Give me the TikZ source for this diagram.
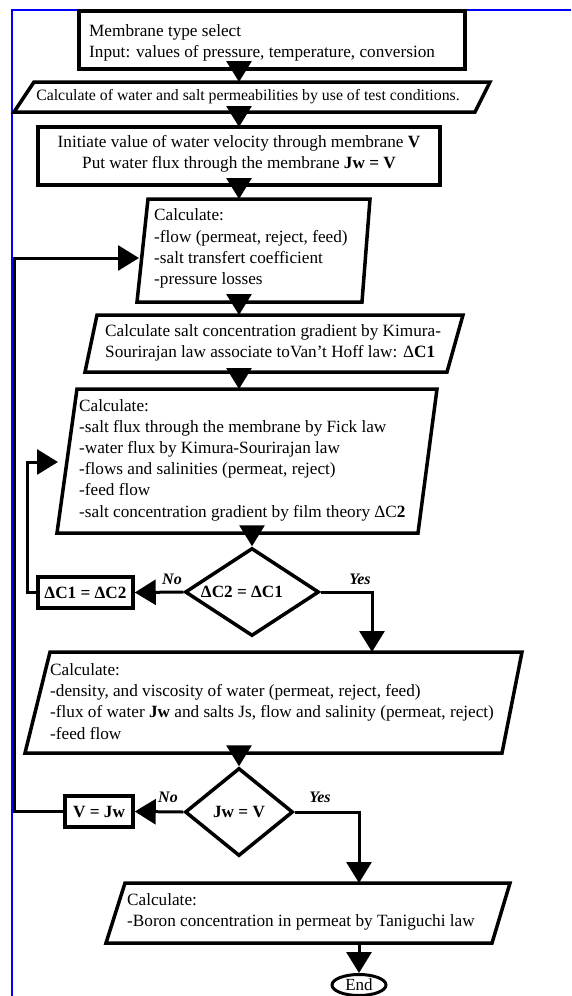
\documentclass[tikz,border=0pt]{standalone}
\usepackage{fontspec}
\setmainfont{Liberation Serif}
\usetikzlibrary{arrows.meta,shapes.geometric}
\tikzset{
  shp/.style={draw=black, line width=3.5pt, line join=miter, fill=white},
  txt/.style={inner sep=0pt, font=\fontsize{17.2}{21.2}\selectfont, align=left},
  conn/.style={draw=black, line width=3pt, -{Triangle[length=21pt,width=25pt]}},
  lab/.style={inner sep=0pt, font=\fontsize{16}{18}\selectfont\bfseries\itshape},
  dtext/.style={font=\fontsize{17.2}{19}\selectfont\bfseries},
  border/.style={draw=blue, line width=2pt},
}
\begin{document}
\begin{tikzpicture}[x=1pt,y=-1pt]
\useasboundingbox[fill=white] (0,0) rectangle (571,996);
\draw[border] (571,10) -- (11.5,10) -- (11.5,996);

% Box 1
\draw[shp] (79,11) rectangle (465,69);
\node[txt, anchor=west] (t1) at (89,43) {Membrane type select\\Input: values of pressure, temperature, conversion};
% Para 2
\draw[shp] (34,82) -- (490,82) -- (475,112) -- (14,112) -- cycle;
\node[txt, font=\fontsize{15.8}{19}\selectfont, anchor=center] (t2) at (248,97) {Calculate of water and salt permeabilities by use of test conditions.};
% Box 3
\draw[shp] (38,127) rectangle (440,185);
\node[txt, align=center] (t3) at (239,153.5) {Initiate value of water velocity through membrane \textbf{V}\\Put water flux through the membrane \textbf{Jw = V}};
% Para 4
\draw[shp] (148,199) -- (370,199) -- (362,302) -- (137,302) -- cycle;
\node[txt, anchor=west] (t4) at (154,248.5) {Calculate:\\-flow (permeat, reject, feed)\\-salt transfert coefficient\\-pressure losses};
% Para 5
\draw[shp] (97,315) -- (463,315) -- (447,372) -- (85,372) -- cycle;
\node[txt, anchor=west] (t5) at (105,343) {Calculate salt concentration gradient by Kimura-\\Sourirajan law associate toVan't Hoff law: Δ\textbf{C1}};
% Para 6
\draw[shp] (77,389) -- (437,389) -- (418,533) -- (57,533) -- cycle;
\node[txt, anchor=west] (t6) at (79,460) {Calculate:\\-salt flux through the membrane by Fick law\\-water flux by Kimura-Sourirajan law\\-flows and salinities (permeat, reject)\\-feed flow\\-salt concentration gradient by film theory ΔC\textbf{2}};
% Decision 1
\node[shp, shape=diamond, aspect=1.52, inner sep=0pt, minimum width=134pt, minimum height=88pt, dtext] (d1) at (252,592) {ΔC2 = ΔC1\hspace*{20pt}};
\node[shp, inner sep=0pt, minimum width=95pt, minimum height=31pt, dtext] (r1) at (85.5,592.5) {ΔC1 = ΔC2};
% Para 7
\draw[shp] (50,652) -- (522,652) -- (502,753) -- (25,753) -- cycle;
\node[txt, anchor=west] (t7) at (50,701.5) {Calculate:\\-density, and viscosity of water (permeat, reject, feed)\\-flux of water \textbf{Jw} and salts Js, flow and salinity (permeat, reject)\\-feed flow};
% Decision 2
\node[shp, shape=diamond, aspect=1.23, inner sep=0pt, minimum width=108pt, minimum height=88pt, dtext] (d2) at (239,812) {Jw = V};
\node[shp, inner sep=0pt, minimum width=68pt, minimum height=31pt, dtext] (r2) at (99,811.5) {V = Jw};
% Para 8
\draw[shp] (125,883) -- (510,883) -- (492,943) -- (106,943) -- cycle;
\node[txt, anchor=west] (t8) at (127,911.5) {Calculate:\\-Boron concentration in permeat by Taniguchi law};
% End
\node[draw=black, line width=3pt, shape=ellipse, inner sep=0pt, minimum width=54pt, minimum height=21pt, fill=white, font=\fontsize{17}{19}\selectfont] (end) at (359,985) {End};

% named connector points
\coordinate (c1a) at (239,69);  \coordinate (c1b) at (239,82);
\coordinate (c2a) at (239,112); \coordinate (c2b) at (239,127);
\coordinate (c3a) at (239,185); \coordinate (c3b) at (239,199);
\coordinate (c4a) at (239,302); \coordinate (c4b) at (239,315);
\coordinate (c5a) at (239,372); \coordinate (c5b) at (239,389);
\coordinate (c6a) at (252,533);
\coordinate (c7a) at (239,753);
\coordinate (p7top) at (372,652);
\coordinate (p8top) at (359,883);
\coordinate (p8bot) at (359,943);
\coordinate (in6) at (58,462);
\coordinate (in4) at (139,258);

% connectors
\draw[conn] (c1a) -- (c1b);
\draw[conn] (c2a) -- (c2b);
\draw[conn] (c3a) -- (c3b);
\draw[conn] (c4a) -- (c4b);
\draw[conn] (c5a) -- (c5b);
\draw[conn] (c6a) -- (d1.north);
\draw[conn] (d1.west) -- (r1.east);
\draw[conn] (r1.west) -- (27,592.5) -- (27,462) -- (in6);
\draw[conn] (d1.east) -- (p7top |- d1.east) -- (p7top);
\draw[conn] (c7a) -- (d2.north);
\draw[conn] (d2.west) -- (r2.east);
\draw[conn] (r2.west) -- (14,811.5) -- (14,258) -- (in4);
\draw[conn] (d2.east) -- (p8top |- d2.east) -- (p8top);
\draw[conn] (p8bot) -- (end.north);

% labels
\node[lab] (no1) at (172,579) {No};
\node[lab] (yes1) at (360,579) {Yes};
\node[lab] (no2) at (168,797) {No};
\node[lab] (yes2) at (320,797) {Yes};
\end{tikzpicture}
\end{document}
